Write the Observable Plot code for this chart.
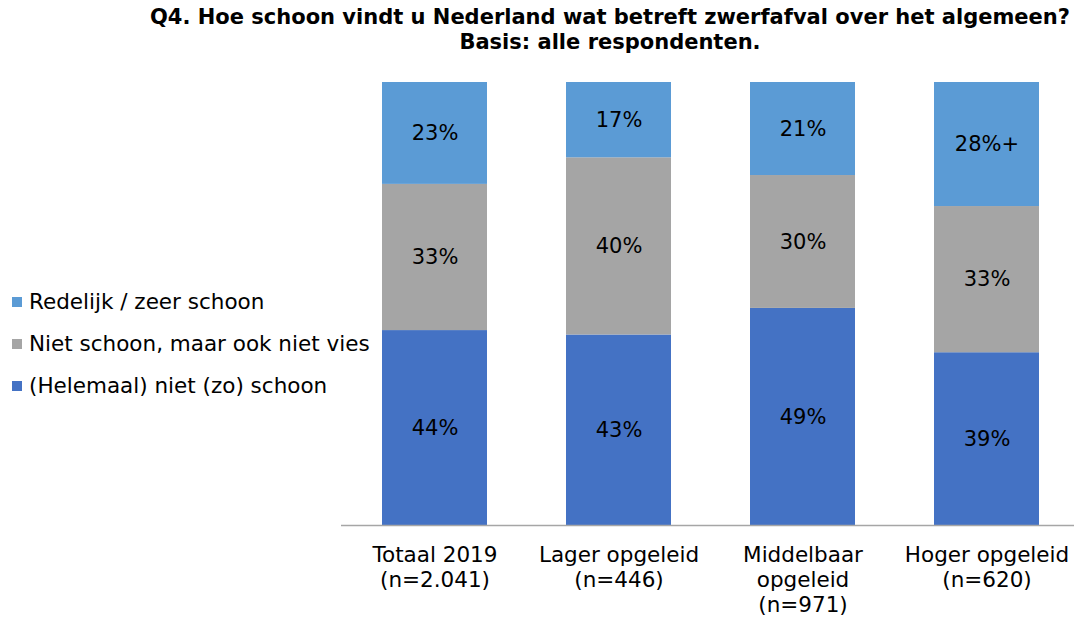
<!DOCTYPE html>
<html><head><meta charset="utf-8">
<script src="https://cdn.jsdelivr.net/npm/d3@7"></script>
<script src="https://cdn.jsdelivr.net/npm/@observablehq/plot@0.6"></script>
<style>
body{margin:0;background:#fff;font-family:"DejaVu Sans",Verdana,sans-serif;}
#wrap{position:relative;width:1074px;height:618px;overflow:hidden;background:#fff;}
#title{position:absolute;top:5px;left:148px;width:924px;text-align:center;font-family:"DejaVu Sans",sans-serif;font-weight:bold;font-size:21px;line-height:25px;color:#000;z-index:2;white-space:nowrap;}
#chart{position:absolute;top:60px;left:0;z-index:1;}
#legend{position:absolute;left:0;top:0;z-index:3;}
.leg{position:absolute;left:12px;font-size:21.5px;line-height:24px;color:#000;white-space:nowrap;display:flex;align-items:center;}
.sw{display:inline-block;width:10px;height:10px;margin-right:7px;}
</style>
</head><body>
<div id="wrap">
<div id="title">Q4. Hoe schoon vindt u Nederland wat betreft zwerfafval over het algemeen?<br>Basis: alle respondenten.</div>
<div id="chart"></div>
<div id="legend"></div>
</div>
<script>
const categories = ["Totaal 2019", "Lager opgeleid", "Middelbaar opgeleid", "Hoger opgeleid"];
const tickLabels = ["Totaal 2019\n(n=2.041)", "Lager opgeleid\n(n=446)", "Middelbaar\nopgeleid\n(n=971)", "Hoger opgeleid\n(n=620)"];
const series = ["(Helemaal) niet (zo) schoon", "Niet schoon, maar ook niet vies", "Redelijk / zeer schoon"];
const colors = ["#4472C4", "#A5A5A5", "#5B9BD5"];
const nietSchoon = [44, 43, 49, 39];
const neutraal = [33, 40, 30, 33];
const schoon = [23, 17, 21, 28];
const schoonLabels = ["23%", "17%", "21%", "28%+"];

const data = [];
categories.forEach((c, i) => {
  data.push({cat: c, series: series[0], value: nietSchoon[i], label: nietSchoon[i] + "%"});
  data.push({cat: c, series: series[1], value: neutraal[i], label: neutraal[i] + "%"});
  data.push({cat: c, series: series[2], value: schoon[i], label: schoonLabels[i]});
});

const chart = Plot.plot({
  width: 1074,
  height: 558,
  marginLeft: 341,
  marginRight: -5,
  marginTop: 22,
  marginBottom: 93,
  style: {fontFamily: "'DejaVu Sans', Verdana, sans-serif", background: "transparent", color: "#000", overflow: "hidden"},
  x: {domain: categories, paddingInner: 0.43, paddingOuter: 0.215, label: null},
  y: {domain: [0, 100], axis: null},
  color: {domain: series, range: colors},
  marks: [
    Plot.barY(data, {x: "cat", y: "value", z: "series", fill: "series", order: series}),
    Plot.text(data, Plot.stackY({x: "cat", y: "value", z: "series", order: series, text: "label", fontSize: 21, fill: "#000"})),
    Plot.ruleY([0], {stroke: "#a6a6a6", strokeWidth: 1.3}),
    Plot.axisX({tickSize: 0, tickPadding: 19, fontSize: 21.5, lineHeight: 1.16, lineAnchor: "top",
      tickFormat: d => tickLabels[categories.indexOf(d)], label: null, fill: "#000"})
  ]
});
document.getElementById("chart").appendChild(chart);

const leg = document.getElementById("legend");
const legOrder = [2, 1, 0];
const legY = [302, 344, 386];
legOrder.forEach((k, j) => {
  const d = document.createElement("div");
  d.className = "leg";
  d.style.top = (legY[j] - 12) + "px";
  d.innerHTML = `<span class="sw" style="background:${colors[k]}"></span><span>${series[k]}</span>`;
  leg.appendChild(d);
});
</script>
</body></html>
